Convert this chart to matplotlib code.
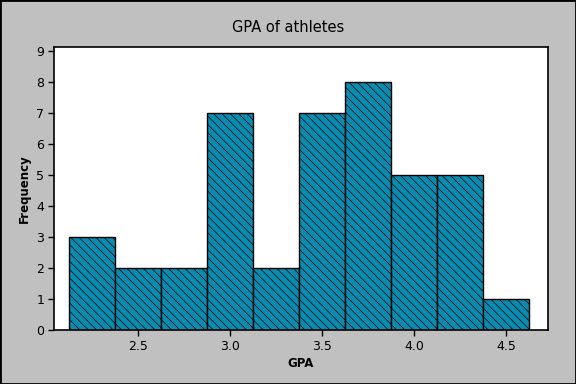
import matplotlib
matplotlib.use("Agg")
import matplotlib.pyplot as plt
from matplotlib.patches import Rectangle

bin_centers = [2.25, 2.5, 2.75, 3.0, 3.25, 3.5, 3.75, 4.0, 4.25, 4.5]
counts = [3, 2, 2, 7, 2, 7, 8, 5, 5, 1]
bin_width = 0.25
xticks = [2.5, 3.0, 3.5, 4.0, 4.5]
xticklabels = ["2.5", "3.0", "3.5", "4.0", "4.5"]
yticks = list(range(10))

plt.rcParams['hatch.linewidth'] = 0.5
fig = plt.figure(figsize=(5.76, 3.84), dpi=100, facecolor="#C0C0C0")
ax = fig.add_axes([54/576, 1-330/384, (548-54)/576, (330-47)/384])
ax.set_facecolor("white")
ax.bar(bin_centers, counts, width=bin_width, color="#0A8CB0", edgecolor="black",
       linewidth=1.0, hatch="\\\\\\\\")
ax.set_xlim(2.043, 4.728)
ax.set_ylim(0, 9.13)
ax.set_xticks(xticks)
ax.set_xticklabels(xticklabels)
ax.set_yticks(yticks)
for s in ax.spines.values():
    s.set_linewidth(1.2)
ax.tick_params(direction="out", length=4, width=1, labelsize=9, pad=3)
ax.set_xlabel("GPA", fontsize=8.5, fontweight="bold", labelpad=3)
ax.set_ylabel("Frequency", fontsize=8.5, fontweight="bold", labelpad=4)
fig.text(0.5, 1-28/384, "GPA of athletes", ha="center", va="center", fontsize=10.5)
fig.add_artist(Rectangle((0, 0), 1, 1, transform=fig.transFigure, fill=False,
                         edgecolor="black", linewidth=2))
fig.savefig("out.png", dpi=100, facecolor=fig.get_facecolor())
